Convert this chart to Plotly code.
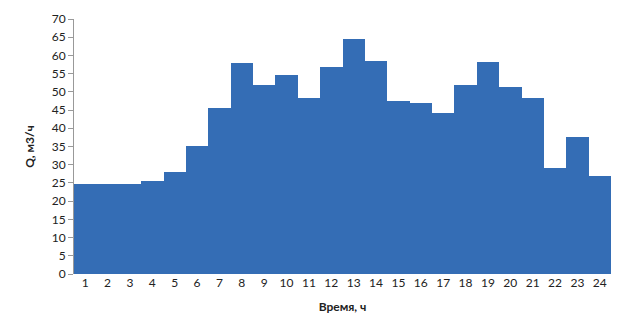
import plotly.graph_objects as go

hours = [str(h) for h in range(1, 25)]
flow = [24.6, 24.6, 24.6, 25.4, 28.1, 35.1, 45.6, 57.9, 52.0, 54.7, 48.3, 56.7,
        64.4, 58.5, 47.5, 46.9, 44.2, 52.0, 58.2, 51.2, 48.3, 29.2, 37.5, 27.0]
y_ticks = list(range(0, 75, 5))

fig = go.Figure(go.Bar(
    x=hours, y=flow,
    marker=dict(color="#346db5", line=dict(width=0)),
))

fig.update_layout(
    width=622, height=334,
    margin=dict(l=74, r=11, t=13, b=60),
    paper_bgcolor="white", plot_bgcolor="white",
    bargap=0,
    showlegend=False,
    font=dict(family="Lato", size=12, color="#222"),
    xaxis=dict(
        type="category", showgrid=False, showline=False, ticks="",
        tickfont=dict(size=12),
        title=dict(text="<b>Время, ч</b>", font=dict(size=12), standoff=13),
    ),
    yaxis=dict(
        range=[0, 70], tickvals=y_ticks, showgrid=False,
        showline=True, linecolor="#999", linewidth=1,
        ticks="outside", ticklen=5, tickcolor="#999",
        tickfont=dict(size=12), zeroline=False,
        title=dict(text="<b>Q, м3/ч</b>", font=dict(size=12), standoff=14),
    ),
)

fig.write_html("out.html")
